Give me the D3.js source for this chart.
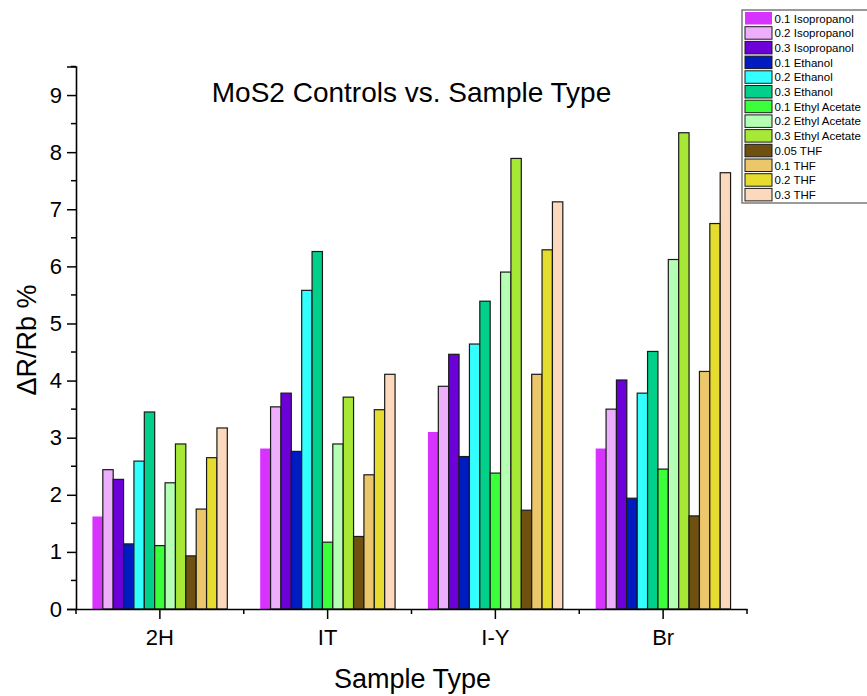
<!DOCTYPE html>
<html>
<head>
<meta charset="utf-8">
<script src="https://cdn.jsdelivr.net/npm/d3@7"></script>
<style>
    body { margin: 0; background: #fff; }
    svg { display: block; font-family: Arial, "Liberation Sans", sans-serif; }
</style>
</head>
<body>
<div id="svgcontainer"></div>
<script>
const categories = ["2H", "IT", "I-Y", "Br"]
const series = [
    "0.1 Isopropanol", "0.2 Isopropanol", "0.3 Isopropanol",
    "0.1 Ethanol", "0.2 Ethanol", "0.3 Ethanol",
    "0.1 Ethyl Acetate", "0.2 Ethyl Acetate", "0.3 Ethyl Acetate",
    "0.05 THF", "0.1 THF", "0.2 THF", "0.3 THF"
]
const colors = [
    "#d633ff", "#edaefc", "#6b00d8",
    "#001bc0", "#33ffff", "#00d08a",
    "#3aff3a", "#b4ffb4", "#a6e835",
    "#6e5010", "#ecc66a", "#e6dc30", "#fcd9bc"
]
// one row per series, values for 2H, IT, I-Y, Br
const values = [
    [1.62, 2.81, 3.10, 2.81],
    [2.44, 3.54, 3.90, 3.50],
    [2.27, 3.78, 4.46, 4.01],
    [1.14, 2.76, 2.67, 1.94],
    [2.59, 5.58, 4.64, 3.78],
    [3.45, 6.26, 5.39, 4.51],
    [1.11, 1.17, 2.38, 2.45],
    [2.21, 2.89, 5.90, 6.12],
    [2.89, 3.71, 7.89, 8.34],
    [0.93, 1.27, 1.73, 1.63],
    [1.75, 2.35, 4.11, 4.16],
    [2.65, 3.49, 6.29, 6.75],
    [3.17, 4.11, 7.13, 7.64]
]
const yTicks = [0, 1, 2, 3, 4, 5, 6, 7, 8, 9]

const WIDTH = 867
const HEIGHT = 696
const X0 = 76, X1 = 747
const Y0 = 609, Y1 = 66.5

const svg = d3.select("#svgcontainer")
    .append("svg")
    .attr("width", WIDTH)
    .attr("height", HEIGHT)

let x = d3.scaleBand().domain(categories).range([X0, X1])
let groupPad = x.bandwidth() * 0.098
let x1 = d3.scaleBand().domain(series).range([groupPad, x.bandwidth() - groupPad])
let y = d3.scaleLinear().domain([0, 9.5]).range([Y0, Y1])

// bars
let rows = []
series.forEach((s, i) => {
    categories.forEach((c, j) => {
        rows.push({ series: s, cat: c, value: values[i][j], color: colors[i], idx: i })
    })
})

svg.append("g")
    .selectAll("rect")
    .data(rows)
    .join("rect")
        .attr("x", d => x(d.cat) + x1(d.series))
        .attr("y", d => y(d.value))
        .attr("width", x1.bandwidth())
        .attr("height", d => Y0 - y(d.value))
        .attr("fill", d => d.color)
        .attr("stroke", d => d.idx === 0 ? "none" : "#1a1a1a")
        .attr("stroke-width", 1.2)

// y axis, major + minor ticks
let yAxis = svg.append("g").attr("transform", `translate(${X0},0)`)
yAxis.call(d3.axisLeft(y).tickValues(yTicks).tickSize(9).tickPadding(5).tickFormat(d3.format("d")))
yAxis.append("g")
    .selectAll("line")
    .data(d3.range(0.5, 9.6, 1))
    .join("line")
        .attr("x1", -5).attr("x2", 0)
        .attr("y1", d => y(d)).attr("y2", d => y(d))
        .attr("stroke", "#000").attr("stroke-width", 1.5)

// x axis, major at category centers, minor at band edges
let xAxis = svg.append("g").attr("transform", `translate(0,${Y0})`)
xAxis.call(d3.axisBottom(x).tickSize(10).tickPadding(10).tickSizeOuter(0))
xAxis.append("g")
    .selectAll("line")
    .data(categories.map(c => x(c)).concat([X1]))
    .join("line")
        .attr("x1", d => d).attr("x2", d => d)
        .attr("y1", 0).attr("y2", 5)
        .attr("stroke", "#000").attr("stroke-width", 1.5)

svg.selectAll(".domain").attr("stroke", "#000").attr("stroke-width", 1.6)
svg.selectAll(".tick line").attr("stroke", "#000").attr("stroke-width", 1.5)
svg.selectAll(".tick text")
    .attr("font-size", 22)
    .attr("font-family", "Arial, 'Liberation Sans', sans-serif")
    .attr("fill", "#000")

// titles
svg.append("text")
    .attr("x", 411.5).attr("y", 102)
    .attr("text-anchor", "middle")
    .attr("font-size", 28)
    .text("MoS2 Controls vs. Sample Type")

svg.append("text")
    .attr("x", 412.5).attr("y", 688)
    .attr("text-anchor", "middle")
    .attr("font-size", 27)
    .text("Sample Type")

svg.append("text")
    .attr("transform", "translate(36,340) rotate(-90)")
    .attr("text-anchor", "middle")
    .attr("font-size", 27)
    .text("\u0394R/Rb %")

// legend
let legend = svg.append("g")
legend.append("rect")
    .attr("x", 742).attr("y", 10)
    .attr("width", 140).attr("height", 193)
    .attr("fill", "#fff")
    .attr("stroke", "#7a7a7a")
    .attr("stroke-width", 1.5)

let items = legend.selectAll("g.item")
    .data(series)
    .join("g")
        .attr("transform", (d, i) => `translate(745,${12 + i * 14.7})`)

items.append("rect")
    .attr("width", 27).attr("height", 12.5)
    .attr("fill", (d, i) => colors[i])
    .attr("stroke", (d, i) => i === 0 ? "none" : "#1a1a1a")
    .attr("stroke-width", 1)

items.append("text")
    .attr("x", 29.5).attr("y", 10.5)
    .attr("font-size", 11.5)
    .text(d => d)
</script>
</body>
</html>
